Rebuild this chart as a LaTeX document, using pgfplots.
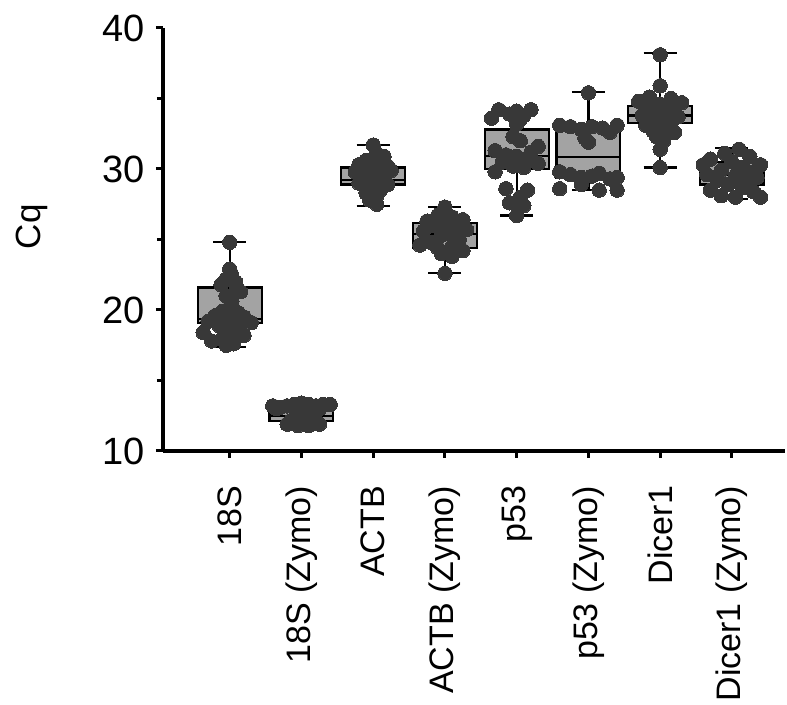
\documentclass[border=0pt]{standalone}
\usepackage{fontspec}
\setmainfont{Liberation Sans}
\usepackage{pgfplots}
\pgfplotsset{compat=1.18}
\definecolor{boxgray}{HTML}{A3A3A3}
\definecolor{dotgray}{HTML}{383838}
\pgfplotsset{
  bx/.style={draw=black, fill=boxgray, line width=1.1pt, line cap=rect, line join=miter, mark=none},
  wl/.style={draw=black, line width=1.1pt, mark=none, unbounded coords=jump},
  dots/.style={only marks, mark=*, mark size=3.6pt, mark options={fill=dotgray, draw=dotgray, line width=0pt}},
}
\begin{document}
\begin{tikzpicture}
\useasboundingbox (-81.5pt,-127pt) rectangle (312pt,225.5pt);
\begin{axis}[
  at={(0,0)}, anchor=south west,
  scale only axis, width=311pt, height=211.5pt,
  xmin=-0.93, xmax=7.74, ymin=10, ymax=40,
  axis x line=bottom, axis y line=left,
  axis line style={line width=2pt, -},
  tick align=outside,
  major tick length=3.5pt, minor tick length=3pt,
  tick style={line width=1.5pt, black},
  ytick={10,20,30,40}, minor ytick={15,25,35},
  xtick={0,1,2,3,4,5,6,7},
  xticklabels={18S, 18S (Zymo), ACTB, ACTB (Zymo), p53, p53 (Zymo), Dicer1, Dicer1 (Zymo)},
  x tick label style={rotate=90, anchor=east, font=\fontsize{17}{20}\selectfont},
  y tick label style={font=\fontsize{19}{22}\selectfont},
  xticklabel shift=10.5pt,
  yticklabel shift=2pt,
  /pgf/number format/assume math mode=true,
  ylabel={Cq},
  ylabel style={font=\fontsize{17.5}{20}\selectfont, at={(axis description cs:-0.21,0.53)}, anchor=center},
  clip=false,
]
% boxes (q1 to q3)
\addplot[bx] coordinates {(-0.445,19.1) (0.445,19.1) (0.445,21.6) (-0.445,21.6) (-0.445,19.1)};
\addplot[bx] coordinates {(0.555,12.1) (1.445,12.1) (1.445,13.1) (0.555,13.1) (0.555,12.1)};
\addplot[bx] coordinates {(1.555,28.9) (2.445,28.9) (2.445,30.1) (1.555,30.1) (1.555,28.9)};
\addplot[bx] coordinates {(2.555,24.4) (3.445,24.4) (3.445,26.15) (2.555,26.15) (2.555,24.4)};
\addplot[bx] coordinates {(3.555,30.0) (4.445,30.0) (4.445,32.8) (3.555,32.8) (3.555,30.0)};
\addplot[bx] coordinates {(4.555,29.35) (5.445,29.35) (5.445,32.8) (4.555,32.8) (4.555,29.35)};
\addplot[bx] coordinates {(5.555,33.25) (6.445,33.25) (6.445,34.45) (5.555,34.45) (5.555,33.25)};
\addplot[bx] coordinates {(6.555,28.9) (7.445,28.9) (7.445,30.5) (6.555,30.5) (6.555,28.9)};
% medians, whiskers and caps
\addplot[wl] coordinates {
(-0.445,19.35) (0.445,19.35) (0,nan) (0,21.6) (0,24.8) (0,nan) (-0.23,24.8) (0.23,24.8) (0,nan) (0,19.1) (0,17.4) (0,nan) (-0.23,17.4) (0.23,17.4) (0,nan)
(0.555,12.5) (1.445,12.5) (1,nan) (1,13.1) (1,13.4) (1,nan) (0.77,13.4) (1.23,13.4) (1,nan) (1,12.1) (1,11.8) (1,nan) (0.77,11.8) (1.23,11.8) (1,nan)
(1.555,29.2) (2.445,29.2) (2,nan) (2,30.1) (2,31.7) (2,nan) (1.77,31.7) (2.23,31.7) (2,nan) (2,28.9) (2,27.4) (2,nan) (1.77,27.4) (2.23,27.4) (2,nan)
(2.555,25.4) (3.445,25.4) (3,nan) (3,26.15) (3,27.3) (3,nan) (2.77,27.3) (3.23,27.3) (3,nan) (3,24.4) (3,22.6) (3,nan) (2.77,22.6) (3.23,22.6) (3,nan)
(3.555,30.9) (4.445,30.9) (4,nan) (4,32.8) (4,34.2) (4,nan) (3.77,34.2) (4.23,34.2) (4,nan) (4,30.0) (4,26.7) (4,nan) (3.77,26.7) (4.23,26.7) (4,nan)
(4.555,30.87) (5.445,30.87) (5,nan) (5,32.8) (5,35.45) (5,nan) (4.77,35.45) (5.23,35.45) (5,nan) (5,29.35) (5,28.5) (5,nan) (4.77,28.5) (5.23,28.5) (5,nan)
(5.555,33.8) (6.445,33.8) (6,nan) (6,34.45) (6,38.2) (6,nan) (5.77,38.2) (6.23,38.2) (6,nan) (6,33.25) (6,30.1) (6,nan) (5.77,30.1) (6.23,30.1) (6,nan)
(6.555,29.6) (7.445,29.6) (7,nan) (7,30.5) (7,31.5) (7,nan) (6.77,31.5) (7.23,31.5) (7,nan) (7,28.9) (7,27.9) (7,nan) (6.77,27.9) (7.23,27.9)
};
% dots
\addplot[dots] coordinates {
(0,24.8) (0,22.9) (0.02,22.6) (-0.05,22.2) (0.08,22.0) (-0.12,21.8) (0.1,21.6) (0.15,21.3) (-0.05,21.0) (0.03,20.6) (0,20.2) (-0.1,19.9) (0.12,19.8) (-0.2,19.6) (0.2,19.5) (-0.05,19.4) (0.05,19.3) (-0.3,19.2) (0.3,19.1) (0.15,19.0) (-0.15,18.9) (0,18.7) (-0.37,18.4) (0.1,18.4) (0.2,18.2) (-0.1,18.0) (-0.25,17.8) (0.05,17.6) (-0.05,17.5)
};
\addplot[dots] coordinates {
(1.4,13.3) (1.3,13.3) (1.2,13.2) (1.1,13.3) (1.0,13.4) (0.9,13.3) (0.8,13.2) (0.7,13.1) (0.6,13.2) (0.65,13.0) (0.95,13.1) (1.25,13.0) (0.95,12.6) (1.1,12.5) (0.8,11.9) (0.95,11.8) (1.1,11.8) (1.25,11.9) (0.85,12.15) (1.2,12.2)
};
\addplot[dots] coordinates {
(2,31.7) (2.05,31.1) (2.15,30.9) (1.9,30.6) (2.1,30.5) (1.8,30.3) (2.2,30.2) (1.95,30.0) (2.25,29.9) (1.75,29.8) (2.05,29.6) (1.85,29.5) (2.15,29.4) (2,29.3) (1.9,29.2) (2.1,29.1) (1.8,29.0) (2.2,28.9) (1.95,28.7) (2.1,28.5) (1.9,28.3) (2.05,28.1) (1.95,27.8) (2.05,27.5)
};
\addplot[dots] coordinates {
(3,27.3) (2.9,26.7) (3.1,26.6) (3.25,26.4) (2.75,26.3) (3,26.2) (2.85,26.0) (3.15,25.9) (3.3,25.7) (2.7,25.6) (3.05,25.4) (2.95,25.3) (3.2,25.0) (2.8,24.8) (2.65,24.6) (3.1,24.5) (2.9,24.4) (3.25,24.2) (2.95,24.0) (3.1,23.8) (3,22.6)
};
\addplot[dots] coordinates {
(3.75,34.2) (4,34.1) (4.2,34.2) (3.9,33.9) (4.1,33.8) (3.65,33.6) (4.05,33.5) (4,33.2) (3.95,32.3) (4.05,32.0) (4.3,31.6) (3.7,31.3) (4.2,31.2) (3.85,31.0) (4,30.9) (4.15,30.7) (3.8,30.5) (4.3,30.4) (3.95,30.2) (4.1,30.1) (3.7,29.8) (3.85,28.6) (4.15,28.5) (4.05,28.0) (3.9,27.6) (4.1,27.4) (4,26.7)
};
\addplot[dots] coordinates {
(5,35.4) (4.6,33.1) (4.75,33.0) (4.9,32.8) (5.05,33.0) (5.2,32.9) (5.4,33.1) (5.3,32.6) (4.95,32.2) (5.0,31.9) (4.6,29.8) (4.75,29.6) (4.9,29.4) (5.05,29.5) (5.15,29.7) (5.3,29.3) (5.4,29.4) (4.6,28.6) (5.15,28.5) (5.4,28.5) (4.9,28.9)
};
\addplot[dots] coordinates {
(6,38.1) (6,35.9) (5.85,35.1) (6.15,35.0) (5.7,34.8) (6.3,34.7) (6,34.6) (5.8,34.4) (6.2,34.2) (5.95,34.1) (6.1,33.9) (5.75,33.8) (6.25,33.7) (6,33.6) (5.9,33.4) (6.15,33.3) (5.8,33.1) (6.05,32.9) (5.9,32.7) (6.2,32.6) (5.95,32.3) (6.05,32.0) (6,31.4) (6,30.1)
};
\addplot[dots] coordinates {
(7.1,31.4) (6.9,31.1) (7.25,30.9) (6.7,30.7) (7,30.5) (6.6,30.3) (7.4,30.3) (7.15,30.1) (6.85,29.9) (7.3,29.8) (6.65,29.6) (7.05,29.5) (7.35,29.4) (6.8,29.2) (7.2,29.1) (6.95,28.9) (7.15,28.7) (6.7,28.5) (7.3,28.4) (6.85,28.1) (7.05,28.0) (7.4,28.0)
};
\end{axis}
\end{tikzpicture}
\end{document}
